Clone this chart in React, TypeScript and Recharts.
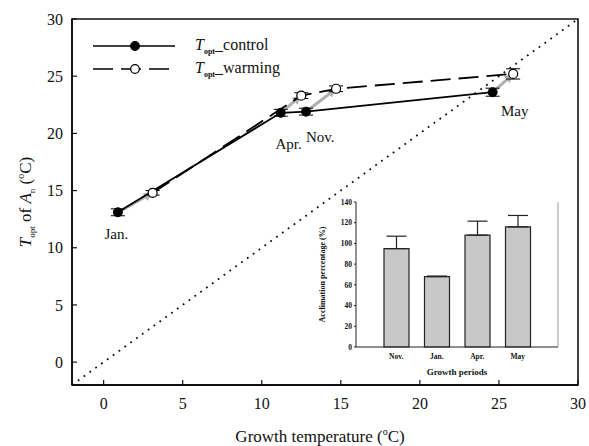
import React from 'react';
import {
  ComposedChart,
  BarChart,
  Bar,
  Line,
  XAxis,
  YAxis,
  ReferenceLine,
  ReferenceArea,
  ReferenceDot,
  ErrorBar,
} from 'recharts';

// main panel: Topt of An against growth temperature
const months = ['Jan.', 'Apr.', 'Nov.', 'May'];
const controlGrowthT = [0.9, 11.2, 12.8, 24.6];
const controlTopt = [13.1, 21.8, 21.9, 23.6];
const controlErr = [0.3, 0.3, 0.3, 0.35];
const warmingGrowthT = [3.1, 12.5, 14.7, 25.9];
const warmingTopt = [14.8, 23.3, 23.9, 25.2];
const warmingErr = [0.2, 0.25, 0.25, 0.45];
const monthLabelX = [0.8, 11.7, 13.7, 26.0];
const monthLabelY = [11.2, 19.1, 19.7, 22.0];
const mainTicks = [0, 5, 10, 15, 20, 25, 30];
const mainDomain = [-2, 30];

// inset: acclimation percentage per growth period
const periods = ['Nov.', 'Jan.', 'Apr.', 'May'];
const acclimation = [95, 68, 108, 116];
const acclimationErr = [12, 0.5, 13.5, 11];
const insetTicks = [0, 20, 40, 60, 80, 100, 120, 140];

const legendItems = [
  { name: 'control', dashed: false, filled: true },
  { name: 'warming', dashed: true, filled: false },
];

const serif = 'Liberation Serif, Times New Roman, serif';

const control = months.map((m, i) => ({ x: controlGrowthT[i], y: controlTopt[i], err: controlErr[i] }));
const warming = months.map((m, i) => ({ x: warmingGrowthT[i], y: warmingTopt[i], err: warmingErr[i] }));
const insetData = periods.map((p, i) => ({ period: p, value: acclimation[i], err: [0, acclimationErr[i]] }));

function Arrow(props: any) {
  const { x1, y1, x2, y2 } = props;
  const dx = x2 - x1;
  const dy = y2 - y1;
  const len = Math.sqrt(dx * dx + dy * dy) || 1;
  const ux = dx / len;
  const uy = dy / len;
  return (
    <line
      x1={x1 + ux * 4}
      y1={y1 + uy * 4}
      x2={x2 - ux * 7}
      y2={y2 - uy * 7}
      stroke="#b0b0b0"
      strokeWidth={3}
      markerEnd="url(#grayArrow)"
    />
  );
}

const filledDot = (props: any) => (
  <circle key={props.index} cx={props.cx} cy={props.cy} r={4.5} fill="#000" stroke="#000" strokeWidth={1} />
);
const openDot = (props: any) => (
  <circle key={props.index} cx={props.cx} cy={props.cy} r={4.5} fill="#fff" stroke="#000" strokeWidth={1.2} />
);

function XTitle(props: any) {
  const { viewBox } = props;
  const cx = viewBox.x + viewBox.width / 2 - 5;
  return (
    <text x={cx} y={viewBox.y + 57} textAnchor="middle" fontFamily={serif} fontSize={17} fill="#111">
      Growth temperature (<tspan fontSize={10} dy={-7}>o</tspan><tspan dy={7}>C)</tspan>
    </text>
  );
}

function YTitle(props: any) {
  const { viewBox } = props;
  const cx = 31;
  const cy = viewBox.y + viewBox.height / 2;
  return (
    <text
      x={cx}
      y={cy}
      transform={`rotate(-90 ${cx} ${cy})`}
      textAnchor="middle"
      fontFamily={serif}
      fontSize={17}
      fill="#111"
    >
      <tspan fontStyle="italic">T</tspan>
      <tspan fontSize={9} dy={4}>opt</tspan>
      <tspan dy={-4}> of </tspan>
      <tspan fontStyle="italic">A</tspan>
      <tspan fontSize={9} dy={4}>n</tspan>
      <tspan dy={-4}> (</tspan>
      <tspan fontSize={10} dy={-7}>o</tspan>
      <tspan dy={7}>C)</tspan>
    </text>
  );
}

function InsetYTitle(props: any) {
  const { viewBox } = props;
  const cx = 25;
  const cy = viewBox.y + viewBox.height / 2;
  return (
    <text
      x={cx}
      y={cy}
      transform={`rotate(-90 ${cx} ${cy})`}
      textAnchor="middle"
      fontFamily={serif}
      fontWeight="bold"
      fontSize={8}
      fill="#111"
    >
      Acclimation percentage (%)
    </text>
  );
}

function InsetXTitle(props: any) {
  const { viewBox } = props;
  return (
    <text
      x={viewBox.x + viewBox.width / 2}
      y={viewBox.y + 28}
      textAnchor="middle"
      fontFamily={serif}
      fontWeight="bold"
      fontSize={9}
      fill="#111"
    >
      Growth periods
    </text>
  );
}

function LegendBox() {
  return (
    <div style={{ position: 'absolute', left: 90, top: 34, fontFamily: serif, fontSize: 16, color: '#111' }}>
      {legendItems.map((it) => (
        <div key={it.name} style={{ display: 'flex', alignItems: 'center', height: 23 }}>
          <svg width={90} height={12} style={{ marginRight: 15 }}>
            <line
              x1={3}
              y1={6}
              x2={85}
              y2={6}
              stroke="#000"
              strokeWidth={1.6}
              strokeDasharray={it.dashed ? '20 8' : undefined}
            />
            <circle cx={45} cy={6} r={4.3} fill={it.filled ? '#000' : '#fff'} stroke="#000" strokeWidth={1.2} />
          </svg>
          <span>
            <i>T</i>
            <span style={{ fontSize: 8, fontWeight: 'bold', verticalAlign: -4 }}>opt</span>_{it.name}
          </span>
        </div>
      ))}
    </div>
  );
}

export default function App() {
  const tickStyle = { fontFamily: serif, fontSize: 16, fill: '#111' };
  const insetTick = { fontFamily: serif, fontSize: 7.5, fontWeight: 'bold', fill: '#111' };
  return (
    <div style={{ position: 'absolute', left: 0, top: 0, width: 589, height: 446, background: '#fff', fontFamily: serif }}>
      <ComposedChart width={589} height={446} margin={{ top: 19, right: 11, bottom: 0, left: 0 }}>
        <defs>
          <marker id="grayArrow" viewBox="0 0 10 10" refX="2" refY="5" markerWidth="3" markerHeight="3" orient="auto">
            <path d="M0,0 L10,5 L0,10 z" fill="#b0b0b0" />
          </marker>
        </defs>
        <XAxis
          type="number"
          dataKey="x"
          domain={mainDomain}
          ticks={mainTicks}
          allowDataOverflow
          tickSize={-5}
          tickMargin={18}
          height={61}
          tick={tickStyle}
          stroke="#111"
          axisLine={{ stroke: '#111', strokeWidth: 1.8 }}
          tickLine={{ stroke: '#111', strokeWidth: 1.2 }}
          label={<XTitle />}
        />
        <YAxis
          type="number"
          domain={mainDomain}
          ticks={mainTicks}
          allowDataOverflow
          width={72}
          tickSize={-5}
          tickMargin={14}
          tick={tickStyle}
          stroke="#111"
          axisLine={{ stroke: '#111', strokeWidth: 1.8 }}
          tickLine={{ stroke: '#111', strokeWidth: 1.2 }}
          label={<YTitle />}
        />
        <ReferenceArea
          x1={-2}
          x2={30}
          y1={-2}
          y2={30}
          fill="none"
          fillOpacity={0}
          stroke="#111"
          strokeWidth={1.6}
        />
        <ReferenceLine
          segment={[
            { x: -2, y: -2 },
            { x: 30, y: 30 },
          ]}
          stroke="#111"
          strokeWidth={1.8}
          strokeDasharray="1.8 5.4"
        />
        {months.map((m, i) => (
          <ReferenceLine
            key={'arr' + m}
            segment={[
              { x: control[i].x, y: control[i].y },
              { x: warming[i].x, y: warming[i].y },
            ]}
            shape={Arrow}
          />
        ))}
        <Line
          data={warming}
          dataKey="y"
          type="linear"
          stroke="#000"
          strokeWidth={1.8}
          strokeDasharray="20 8"
          dot={openDot}
          activeDot={false}
          isAnimationActive={false}
        >
          <ErrorBar dataKey="err" direction="y" width={7} stroke="#000" strokeWidth={1} />
        </Line>
        <Line
          data={control}
          dataKey="y"
          type="linear"
          stroke="#000"
          strokeWidth={1.8}
          dot={filledDot}
          activeDot={false}
          isAnimationActive={false}
        >
          <ErrorBar dataKey="err" direction="y" width={7} stroke="#000" strokeWidth={1} />
        </Line>
        {months.map((m, i) => (
          <ReferenceDot
            key={'lbl' + m}
            x={monthLabelX[i]}
            y={monthLabelY[i]}
            r={0}
            fill="none"
            stroke="none"
            label={{ value: m, position: 'center', fontFamily: serif, fontSize: 15, fill: '#111' }}
          />
        ))}
      </ComposedChart>
      <LegendBox />
      <div style={{ position: 'absolute', left: 300, top: 190 }}>
        <BarChart width={270} height={190} data={insetData} margin={{ top: 12, right: 11, bottom: 0, left: 0 }} barSize={25}>
          <XAxis
            dataKey="period"
            padding={{ left: 20, right: 20 }}
            tickLine={false}
            tickSize={0}
            tickMargin={7}
            height={33}
            tick={insetTick}
            axisLine={{ stroke: '#222', strokeWidth: 1 }}
            label={<InsetXTitle />}
          />
          <XAxis xAxisId="top" orientation="top" dataKey="period" tick={false} tickLine={false} height={0} axisLine={{ stroke: '#999' }} />
          <YAxis
            domain={[0, 140]}
            ticks={insetTicks}
            width={56}
            tickSize={2}
            tickMargin={2}
            tick={insetTick}
            axisLine={{ stroke: '#222', strokeWidth: 1 }}
            tickLine={{ stroke: '#222' }}
            label={<InsetYTitle />}
          />
          <YAxis yAxisId="right" orientation="right" tick={false} tickLine={false} width={1} axisLine={{ stroke: '#999' }} />
          <Bar dataKey="value" fill="#c8c8c8" stroke="#222" strokeWidth={1.2} isAnimationActive={false}>
            <ErrorBar dataKey="err" direction="y" width={10} stroke="#222" strokeWidth={1.2} />
          </Bar>
        </BarChart>
      </div>
    </div>
  );
}
